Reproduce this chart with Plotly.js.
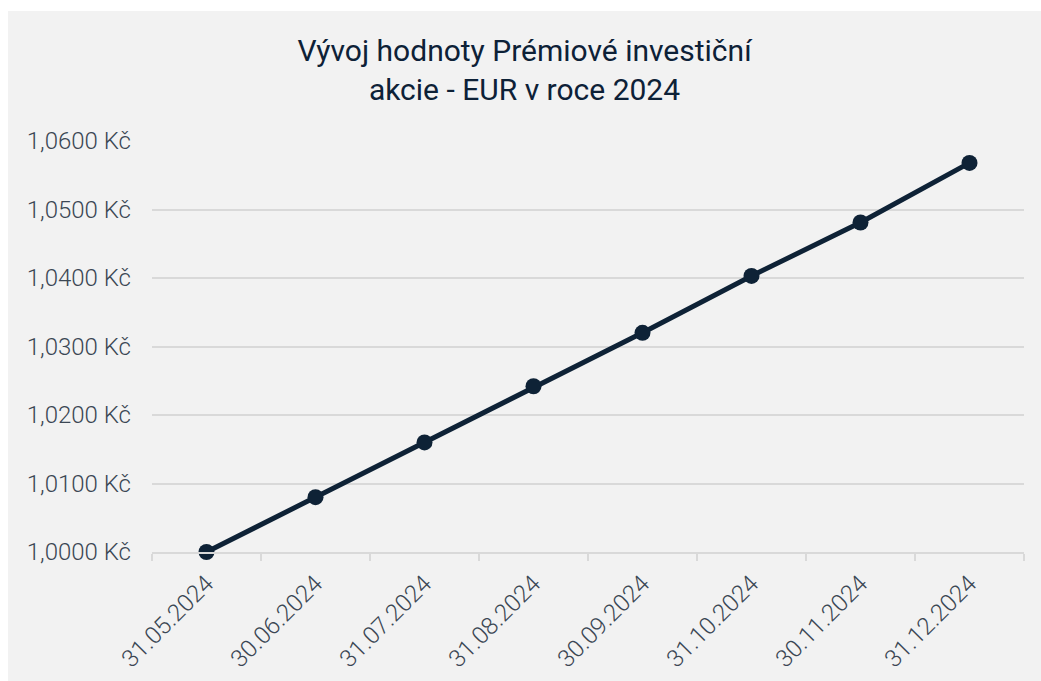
<!DOCTYPE html>
<html>
<head>
<meta charset="utf-8">
<script src="https://cdn.plot.ly/plotly-3.0.1.min.js"></script>
<style>
html, body { margin: 0; padding: 0; background: #ffffff; width: 1041px; height: 681px; overflow: hidden; }
#chart { position: absolute; left: 8px; top: 11px; width: 1033px; height: 670px; }
</style>
</head>
<body>
<div id="chart"></div>
<script>
const categories = ["31.05.2024", "30.06.2024", "31.07.2024", "31.08.2024", "30.09.2024", "31.10.2024", "30.11.2024", "31.12.2024"];
const values = [1.0000, 1.0080, 1.0160, 1.0242, 1.0320, 1.0403, 1.0481, 1.0568];
const yTickVals = [1.00, 1.01, 1.02, 1.03, 1.04, 1.05, 1.06];
const yTickLabels = ["1,0000 Kč", "1,0100 Kč", "1,0200 Kč", "1,0300 Kč", "1,0400 Kč", "1,0500 Kč", "1,0600 Kč"];
const titleText = "Vývoj hodnoty Prémiové investiční<br>akcie - EUR v roce 2024";

const trace = {
  type: "scatter",
  mode: "lines+markers",
  x: categories,
  y: values,
  line: { color: "#0e2236", width: 5 },
  marker: { color: "#0e2236", size: 16 },
  cliponaxis: false,
  hoverinfo: "x+y"
};

const layout = {
  width: 1033,
  height: 670,
  paper_bgcolor: "#f2f2f2",
  plot_bgcolor: "#f2f2f2",
  margin: { l: 144, r: 17, t: 130, b: 129 },
  showlegend: false,
  title: {
    text: titleText,
    x: 0.5,
    xanchor: "center",
    xref: "container",
    y: 1 - 50 / 670,
    yref: "container",
    yanchor: "top",
    font: { family: "Roboto, 'Noto Sans', sans-serif", size: 30, color: "#0d2137" }
  },
  xaxis: {
    type: "category",
    tickangle: -45,
    tickson: "boundaries",
    ticks: "outside",
    ticklen: 7,
    tickwidth: 2,
    tickcolor: "#d9d9d9",
    showline: true,
    linecolor: "#d9d9d9",
    linewidth: 2,
    showgrid: false,
    zeroline: false,
    ticklabelstandoff: 6,
    tickfont: { family: "Roboto, 'Noto Sans', sans-serif", size: 24, color: "#3b4754", weight: 300 },
    range: [-0.5, 7.5]
  },
  yaxis: {
    range: [1.0, 1.06],
    tickvals: yTickVals,
    ticktext: yTickLabels,
    showgrid: true,
    gridcolor: "#d9d9d9",
    gridwidth: 2,
    zeroline: false,
    showline: false,
    ticks: "",
    ticklabelstandoff: 20,
    tickfont: { family: "Roboto, 'Noto Sans', sans-serif", size: 24, color: "#3b4754", weight: 300 }
  }
};

Plotly.newPlot("chart", [trace], layout, { displayModeBar: false, staticPlot: true });
</script>
</body>
</html>
